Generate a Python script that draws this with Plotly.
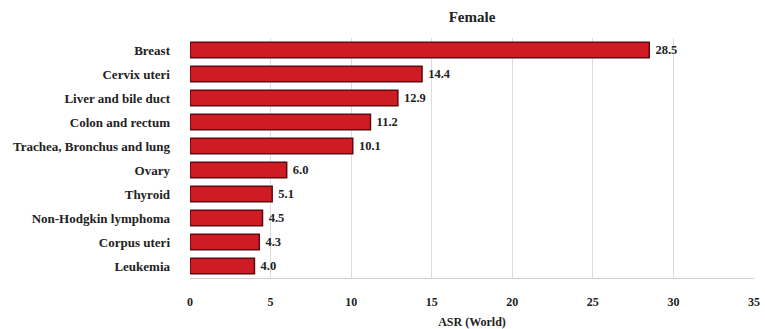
import plotly.graph_objects as go

# Female cancer incidence, age-standardised rate (World)
sites = [
    "Breast",
    "Cervix uteri",
    "Liver and bile duct",
    "Colon and rectum",
    "Trachea, Bronchus and lung",
    "Ovary",
    "Thyroid",
    "Non-Hodgkin lymphoma",
    "Corpus uteri",
    "Leukemia",
]
asr = [28.5, 14.4, 12.9, 11.2, 10.1, 6.0, 5.1, 4.5, 4.3, 4.0]
x_ticks = [0, 5, 10, 15, 20, 25, 30, 35]

font_family = "Liberation Serif, Times New Roman, serif"

fig = go.Figure()
fig.add_trace(
    go.Bar(
        x=asr,
        y=sites,
        orientation="h",
        width=0.64,
        marker=dict(color="#cf1b23", line=dict(color="#5e0b0e", width=1.5)),
        text=[f" <b>{v:.1f}</b>" for v in asr],
        textposition="outside",
        cliponaxis=False,
        textfont=dict(family=font_family, size=12.5, color="#222222"),
        hoverinfo="x+y",
    )
)

fig.update_layout(
    width=765,
    height=329,
    margin=dict(l=190, r=11, t=38, b=51, autoexpand=False),
    paper_bgcolor="white",
    plot_bgcolor="white",
    showlegend=False,
    font=dict(family=font_family, size=12, color="#222222"),
    title=dict(
        text="<b>Female</b>",
        x=0.5,
        xref="paper",
        xanchor="center",
        y=0.95,
        yanchor="middle",
        font=dict(family=font_family, size=15, color="#222222"),
    ),
    bargap=0.36,
)

fig.update_xaxes(
    range=[0, 35],
    tickvals=x_ticks,
    ticktext=[f"<b>{t}</b>" for t in x_ticks],
    tickfont=dict(family=font_family, size=12),
    showgrid=True,
    gridcolor="#dcdcdc",
    gridwidth=1,
    showline=True,
    linecolor="#d0d0d0",
    zeroline=False,
    ticks="",
    automargin=False,
    ticklabelstandoff=13,
    title=dict(text="<b>ASR (World)</b>", standoff=9,
               font=dict(family=font_family, size=12)),
)

fig.update_yaxes(
    categoryorder="array",
    categoryarray=sites[::-1],
    tickvals=sites,
    ticktext=[f"<b>{s}</b>" for s in sites],
    tickfont=dict(family=font_family, size=13),
    showgrid=False,
    showline=False,
    zeroline=False,
    ticks="",
    automargin=False,
    ticklabelstandoff=19,
)

fig.write_html("out.html")
